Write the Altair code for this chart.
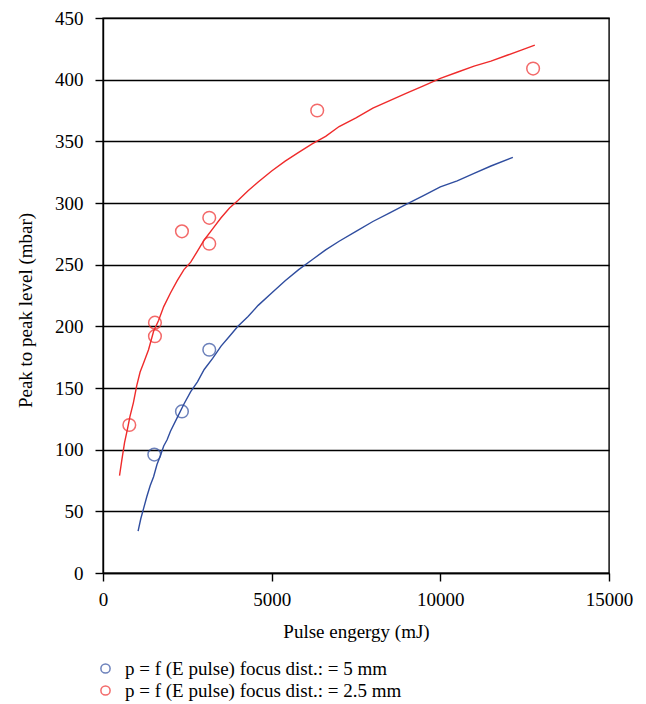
import altair as alt
import pandas as pd

LBL5 = "p = f (E pulse) focus dist.: = 5 mm"
LBL25 = "p = f (E pulse) focus dist.: = 2.5 mm"

# Fitted curves
red_x = [490, 560, 640, 720, 800, 900, 1000, 1100, 1200, 1350, 1500, 1650, 1800, 2000, 2200,
         2400, 2600, 2800, 3000, 3250, 3500, 3750, 4000, 4300, 4600, 5000, 5400, 5800, 6200,
         6600, 7000, 7500, 8000, 8500, 9000, 9500, 10000, 10500, 11000, 11500, 12000, 12400, 12800]
red_y = [79, 92, 106, 116, 127, 138, 152, 163, 170, 181, 196, 205, 216, 227, 237,
         246, 252, 261, 270, 279, 288, 296, 302, 310, 317, 326, 334, 341, 348,
         354, 362, 369, 377, 383, 389, 395, 401, 406, 411, 415, 420, 424, 428]

blue_x = [1040, 1120, 1200, 1300, 1400, 1500, 1600, 1700, 1800, 1900, 2000, 2200, 2400, 2600,
          2800, 3000, 3250, 3500, 3750, 4000, 4300, 4600, 5000, 5400, 5800, 6200, 6600, 7000,
          7500, 8000, 8500, 9000, 9500, 10000, 10500, 11000, 11500, 12150]
blue_y = [34, 44, 52, 62, 71, 78, 88, 95, 103, 108, 115, 126, 137, 147,
          155, 165, 174, 184, 192, 200, 208, 217, 227, 237, 246, 254, 262, 269,
          277, 285, 292, 299, 306, 313, 318, 324, 330, 337]

# Measured points
red_px = [780, 1540, 1540, 2340, 3150, 3150, 6350, 12750]
red_py = [120, 203, 192, 277, 288, 267, 375, 409]
blue_px = [1520, 2340, 3150]
blue_py = [96, 131, 181]

x_ticks = [0, 5000, 10000, 15000]
y_ticks = [0, 50, 100, 150, 200, 250, 300, 350, 400, 450]

RED = "#ef2b2b"
BLUE = "#2f4d9f"
FONT = "Liberation Serif"

curves = pd.concat([
    pd.DataFrame({"x": blue_x, "y": blue_y, "s": LBL5}),
    pd.DataFrame({"x": red_x, "y": red_y, "s": LBL25}),
])
points = pd.concat([
    pd.DataFrame({"x": blue_px, "y": blue_py, "s": LBL5}),
    pd.DataFrame({"x": red_px, "y": red_py, "s": LBL25}),
])

cscale = alt.Scale(domain=[LBL5, LBL25], range=[BLUE, RED])

xenc = alt.X("x:Q", scale=alt.Scale(domain=[0, 15000], nice=False),
             axis=alt.Axis(values=x_ticks, format="d", title="Pulse engergy (mJ)",
                           grid=False, labelFlush=False, tickSize=8, labelPadding=9,
                           titlePadding=13))
yenc = alt.Y("y:Q", scale=alt.Scale(domain=[0, 450], nice=False),
             axis=alt.Axis(values=y_ticks, title="Peak to peak level (mbar)",
                           grid=True, gridColor="black", gridWidth=1.4,
                           tickSize=8, labelPadding=12, titlePadding=19, titleY=292))

lines = alt.Chart(curves).mark_line(strokeWidth=1.4).encode(
    x=xenc, y=yenc, color=alt.Color("s:N", scale=cscale, legend=None), detail="s:N")

pts = alt.Chart(points).mark_point(shape="circle", filled=False, size=160,
                                   strokeWidth=1.5).encode(
    x="x:Q", y="y:Q",
    color=alt.Color("s:N", scale=cscale,
                    legend=alt.Legend(title=None, orient="none", legendX=-7, legendY=641,
                                      symbolSize=85, symbolStrokeWidth=1.5,
                                      labelFont=FONT, labelFontSize=19, labelColor="black",
                                      rowPadding=2, labelOffset=10, symbolType="circle",
                                      labelLimit=500)))

chart = alt.layer(lines, pts).resolve_legend(color="independent").properties(
    width=506, height=555,
    autosize=alt.AutoSizeParams(type="none"),
    padding={"left": 95, "top": 10, "right": 25, "bottom": 128},
    background="white",
).configure_view(stroke="black", strokeWidth=1.4).configure_axis(
    domainColor="black", domainWidth=1.4, tickColor="black", tickWidth=1.4,
    labelFont=FONT, labelFontSize=19, labelColor="black",
    titleFont=FONT, titleFontSize=19, titleColor="black", titleFontWeight="normal",
)

chart.save("out.html", embed_options={"renderer": "svg", "actions": False})
